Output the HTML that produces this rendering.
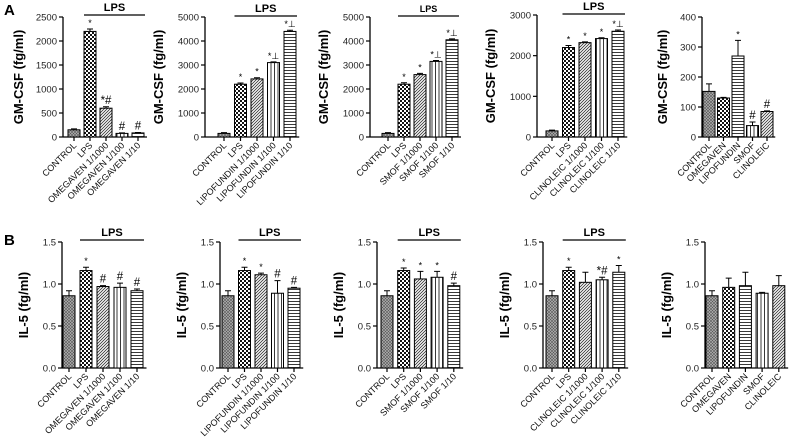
<!DOCTYPE html>
<html><head><meta charset="utf-8">
<style>
html,body{margin:0;padding:0;background:#fff;}
svg{display:block;font-family:"Liberation Sans",Arial,sans-serif;}
</style></head>
<body>
<svg id="fig" width="792" height="447" viewBox="0 0 792 447" xmlns="http://www.w3.org/2000/svg">
<defs>
<pattern id="p-ctrl" width="3" height="3" patternUnits="userSpaceOnUse"><rect width="3" height="3" fill="#b0b0b0"/><path d="M0 0L3 3M3 0L0 3" stroke="#555" stroke-width="0.6"/></pattern>
<pattern id="p-check" width="4" height="4" patternUnits="userSpaceOnUse"><rect width="4" height="4" fill="#fff"/><rect width="2" height="2" fill="#111"/><rect x="2" y="2" width="2" height="2" fill="#111"/></pattern>
<pattern id="p-diag" width="3" height="3" patternUnits="userSpaceOnUse"><rect width="3" height="3" fill="#fff"/><path d="M-1 1L1 -1M0 3L3 0M2 4L4 2" stroke="#333" stroke-width="0.8"/></pattern>
<pattern id="p-vert" width="3.5" height="3" patternUnits="userSpaceOnUse"><rect width="3.5" height="3" fill="#fff"/><path d="M1.5 0V3" stroke="#222" stroke-width="0.9"/></pattern>
<pattern id="p-horz" width="3" height="3" patternUnits="userSpaceOnUse"><rect width="3" height="3" fill="#fff"/><path d="M0 1.5H3" stroke="#222" stroke-width="0.9"/></pattern>
</defs>
<text x="4" y="15" font-size="15" font-weight="bold">A</text>
<text x="4" y="245" font-size="15" font-weight="bold">B</text>
</svg>
<script>
// ---- data ----
const catA1 = ["CONTROL","LPS","OMEGAVEN 1/1000","OMEGAVEN 1/100","OMEGAVEN 1/10"];
const valA1 = [150,2200,600,75,85];
const errA1 = [20,50,30,10,10];
const annA1 = ["","*","*#","#","#"];
const catA2 = ["CONTROL","LPS","LIPOFUNDIN 1/1000","LIPOFUNDIN 1/100","LIPOFUNDIN 1/10"];
const valA2 = [150,2200,2420,3100,4400];
const errA2 = [30,50,50,30,50];
const annA2 = ["","*","*","*\u22a5","*\u22a5"];
const catA3 = ["CONTROL","LPS","SMOF 1/1000","SMOF 1/100","SMOF 1/10"];
const valA3 = [150,2200,2600,3150,4050];
const errA3 = [30,60,50,40,40];
const annA3 = ["","*","*","*\u22a5","*\u22a5"];
const catA4 = ["CONTROL","LPS","CLINOLEIC 1/1000","CLINOLEIC 1/100","CLINOLEIC 1/10"];
const valA4 = [150,2200,2320,2420,2600];
const errA4 = [20,50,20,20,30];
const annA4 = ["","*","*","*","*\u22a5"];
const catA5 = ["CONTROL","OMEGAVEN","LIPOFUNDIN","SMOF","CLINOLEIC"];
const valA5 = [152,130,270,38,85];
const errA5 = [25,2,52,12,2];
const annA5 = ["","","*","#","#"];
const catB1 = catA1, catB2 = catA2, catB3 = catA3, catB4 = catA4, catB5 = catA5;
const valB1 = [0.86,1.16,0.97,0.96,0.92];
const errB1 = [0.06,0.04,0.01,0.05,0.02];
const annB1 = ["","*","#","#","#"];
const valB2 = [0.86,1.16,1.11,0.89,0.95];
const errB2 = [0.06,0.04,0.02,0.15,0.01];
const annB2 = ["","*","*","#","#"];
const valB3 = [0.86,1.16,1.06,1.08,0.98];
const errB3 = [0.06,0.03,0.09,0.07,0.03];
const annB3 = ["","*","*","*","#"];
const valB4 = [0.86,1.16,1.02,1.05,1.14];
const errB4 = [0.06,0.04,0.12,0.03,0.08];
const annB4 = ["","*","","*#","*"];
const valB5 = [0.86,0.96,0.98,0.89,0.98];
const errB5 = [0.06,0.11,0.16,0.01,0.12];
const annB5 = ["","","","",""];
const ticksA1 = [0,500,1000,1500,2000,2500];
const ticksA2 = [0,1000,2000,3000,4000,5000];
const ticksA4 = [0,1000,2000,3000];
const ticksA5 = [0,100,200,300,400];
const ticksB = [0,0.5,1.0,1.5];
const tickLabB = ["0.0","0.5","1.0","1.5"];

const NS="http://www.w3.org/2000/svg";
const svg=document.getElementById('fig');
function mk(tag,attrs,parent){const e=document.createElementNS(NS,tag);for(const k in attrs)e.setAttribute(k,attrs[k]);(parent||svg).appendChild(e);return e;}
const patSeries=["p-ctrl","p-check","p-diag","p-vert","p-horz"];
const patLast=["p-ctrl","p-check","p-horz","p-vert","p-diag"];

function panel(o){
  const g=mk('g',{});
  
  
  const max=o.ticks[o.ticks.length-1];
  const ys=v=>o.y0-(v/max)*(o.y0-o.yt);
  const xs=i=>o.c0+i*o.step;
  const xEnd=xs(o.cats.length-1)+o.step/2+1;
  const ax=mk('line',{x1:o.ax,y1:o.yt,x2:o.ax,y2:o.y0,stroke:'#000','stroke-width':1.3},g);
  
  const bx=mk('line',{x1:o.ax,y1:o.y0,x2:xEnd,y2:o.y0,stroke:'#000','stroke-width':1.3},g);
  
  o.ticks.forEach((t,i)=>{
    const y=ys(t);
    mk('line',{x1:o.ax-4,y1:y,x2:o.ax,y2:y,stroke:'#000','stroke-width':1.2},g);
    const tx=mk('text',{x:o.ax-6,y:y+3.5,'font-size':9.5,'text-anchor':'end',fill:'#222'},g);
    tx.textContent=o.tickLab?o.tickLab[i]:t;
    
  });
  const yl=mk('text',{x:0,y:0,'font-size':13,'font-weight':'bold','text-anchor':'middle',transform:`translate(${o.ax-o.lblOff},${(o.y0+o.yt)/2}) rotate(-90)`},g);
  yl.textContent=o.ylabel;
  o.cats.forEach((c,i)=>{
    const cx=xs(i),v=o.vals[i],e=o.errs[i];
    const top=ys(v),et=ys(v+e);
    mk('line',{x1:cx,y1:o.y0,x2:cx,y2:o.y0+4,stroke:'#000','stroke-width':1.2},g);
    const r=mk('rect',{x:cx-6,y:top,width:12,height:o.y0-top,fill:`url(#${o.pats[i]})`,stroke:'#000','stroke-width':1},g);
    
    
    const eb=mk('path',{d:`M${cx} ${top}V${et}M${cx-3} ${et}H${cx+3}`,stroke:'#000','stroke-width':1,fill:'none'},g);
    
    if(o.anns[i]){
      const a=o.anns[i];
      const hashy=a.indexOf('#')>=0;
      const at=mk('text',{x:cx,y:et-3,'font-size':hashy?11.5:9,'text-anchor':'middle'},g);
      at.textContent=a;
    }
    const xl=mk('text',{x:0,y:0,'font-size':9,'text-anchor':'end',fill:'#111',transform:`translate(${cx+3},${o.y0+9}) rotate(-45)`},g);
    xl.textContent=c;
  });
  if(o.lps){
    const lx1=xs(1)-6,lx2=xs(o.cats.length-1)+7;
    const ln=mk('line',{x1:lx1,y1:o.lpsY,x2:lx2,y2:o.lpsY,stroke:'#000','stroke-width':1.2},g);
    
    const lt=mk('text',{x:(lx1+lx2)/2,y:o.lpsY-4,'font-size':o.lpsSize||11,'font-weight':'bold','text-anchor':'middle'},g);
    lt.textContent='LPS';
  }
}
const GA='GM-CSF (fg/ml)',GB='IL-5 (fg/ml)';
panel({name:'panel-a1',cats:catA1,vals:valA1,errs:errA1,anns:annA1,ticks:ticksA1,ax:63,c0:74,step:16,y0:137,yt:17,ylabel:GA,lblOff:40,pats:patSeries,lps:true,lpsY:15});
panel({name:'panel-a2',cats:catA2,vals:valA2,errs:errA2,anns:annA2,ticks:ticksA2,ax:205,c0:224,step:16.5,y0:137,yt:17,ylabel:GA,lblOff:42,pats:patSeries,lps:true,lpsY:16});
panel({name:'panel-a3',cats:catA3,vals:valA3,errs:errA3,anns:annA3,ticks:ticksA2,ax:370,c0:388,step:16,y0:137,yt:17,ylabel:GA,lblOff:42,pats:patSeries,lps:true,lpsY:16,lpsSize:9});
panel({name:'panel-a4',cats:catA4,vals:valA4,errs:errA4,anns:annA4,ticks:ticksA4,ax:537,c0:552,step:16.5,y0:137,yt:15,ylabel:GA,lblOff:42,pats:patSeries,lps:true,lpsY:14});
panel({name:'panel-a5',cats:catA5,vals:valA5,errs:errA5,anns:annA5,ticks:ticksA5,ax:702,c0:709,step:14.5,y0:137,yt:17,ylabel:GA,lblOff:35,pats:patLast,lps:false});
panel({name:'panel-b1',cats:catB1,vals:valB1,errs:errB1,anns:annB1,ticks:ticksB,tickLab:tickLabB,ax:62,c0:69,step:17,y0:368,yt:242,ylabel:GB,lblOff:34,pats:patSeries,lps:true,lpsY:240});
panel({name:'panel-b2',cats:catB2,vals:valB2,errs:errB2,anns:annB2,ticks:ticksB,tickLab:tickLabB,ax:220,c0:228,step:16.5,y0:368,yt:242,ylabel:GB,lblOff:34,pats:patSeries,lps:true,lpsY:240});
panel({name:'panel-b3',cats:catB3,vals:valB3,errs:errB3,anns:annB3,ticks:ticksB,tickLab:tickLabB,ax:377,c0:387,step:16.7,y0:368,yt:242,ylabel:GB,lblOff:34,pats:patSeries,lps:true,lpsY:240});
panel({name:'panel-b4',cats:catB4,vals:valB4,errs:errB4,anns:annB4,ticks:ticksB,tickLab:tickLabB,ax:543,c0:552,step:16.7,y0:368,yt:242,ylabel:GB,lblOff:34,pats:patSeries,lps:true,lpsY:240});
panel({name:'panel-b5',cats:catB5,vals:valB5,errs:errB5,anns:annB5,ticks:ticksB,tickLab:tickLabB,ax:705,c0:712,step:16.7,y0:368,yt:242,ylabel:GB,lblOff:34,pats:patLast,lps:false});
</script>
</body></html>
